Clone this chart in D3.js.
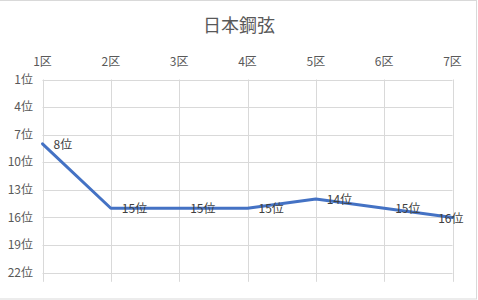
<!DOCTYPE html>
<html>
<head>
<meta charset="utf-8">
<script src="https://cdn.jsdelivr.net/npm/d3@7"></script>
<style>
  body { margin: 0; background: #fff; }
  svg { display: block; font-family: "Noto Sans CJK JP", "Noto Sans", sans-serif; }
</style>
</head>
<body>
<svg id="chart"></svg>
<script>
// 日本鋼弦 rank by section
const title = '日本鋼弦';
const sections = ['1区', '2区', '3区', '4区', '5区', '6区', '7区'];
const ranks = [8, 15, 15, 15, 14, 15, 16];
const rankTicks = [1, 4, 7, 10, 13, 16, 19, 22];

(function() {
    const width = 478, height = 300;
    const svg = d3.select('#chart').attr('width', width).attr('height', height);

    // chart border
    svg.append('rect')
        .attr('x', -1).attr('y', 0.5)
        .attr('width', 477.5).attr('height', 298.5)
        .attr('fill', '#fff').attr('stroke', '#d9d9d9');

    const left = 42.5, right = 452.5, top = 79.5, bottom = 281.8;

    const x = d3.scalePoint().domain(sections).range([left, right]);
    const y = d3.scaleLinear().domain([1, 23]).range([top, bottom]);

    svg.append('text')
        .attr('x', 239).attr('y', 32)
        .attr('text-anchor', 'middle')
        .attr('font-size', 18).attr('fill', '#595959')
        .text(title);

    // gridlines
    svg.append('g').selectAll('line.h').data(rankTicks).enter().append('line')
        .attr('x1', left).attr('x2', right)
        .attr('y1', d => Math.round(y(d)) + 0.5).attr('y2', d => Math.round(y(d)) + 0.5)
        .attr('stroke', '#d9d9d9').attr('stroke-width', 1);
    svg.append('g').selectAll('line.v').data(sections).enter().append('line')
        .attr('x1', d => Math.round(x(d)) + 0.5).attr('x2', d => Math.round(x(d)) + 0.5)
        .attr('y1', top).attr('y2', bottom)
        .attr('stroke', '#d9d9d9').attr('stroke-width', 1);

    // category labels on top
    svg.append('g').selectAll('text').data(sections).enter().append('text')
        .attr('x', d => x(d)).attr('y', 66)
        .attr('text-anchor', 'middle')
        .attr('font-size', 12).attr('fill', '#595959')
        .text(d => d);

    // rank labels on left
    svg.append('g').selectAll('text').data(rankTicks).enter().append('text')
        .attr('x', 33).attr('y', d => y(d))
        .attr('dy', '0.35em')
        .attr('text-anchor', 'end')
        .attr('font-size', 12).attr('fill', '#595959')
        .text(d => d + '位');

    const pts = sections.map((s, i) => ({ s, r: ranks[i] }));
    const line = d3.line().x(d => x(d.s)).y(d => y(d.r));

    svg.append('path')
        .datum(pts)
        .attr('d', line)
        .attr('fill', 'none')
        .attr('stroke', '#4472c4')
        .attr('stroke-width', 3)
        .attr('stroke-linejoin', 'round')
        .attr('stroke-linecap', 'round');

    // data labels to the right; pushed back inside if they would overflow
    svg.append('g').selectAll('text').data(pts).enter().append('text')
        .attr('x', d => Math.min(x(d.s) + 11, 472))
        .attr('text-anchor', d => x(d.s) + 11 + 24 > 472 ? 'end' : 'start')
        .attr('y', d => y(d.r) + 1)
        .attr('dy', '0.35em')
        .attr('font-size', 12).attr('fill', '#404040')
        .text(d => d.r + '位');
})();
</script>
</body>
</html>
